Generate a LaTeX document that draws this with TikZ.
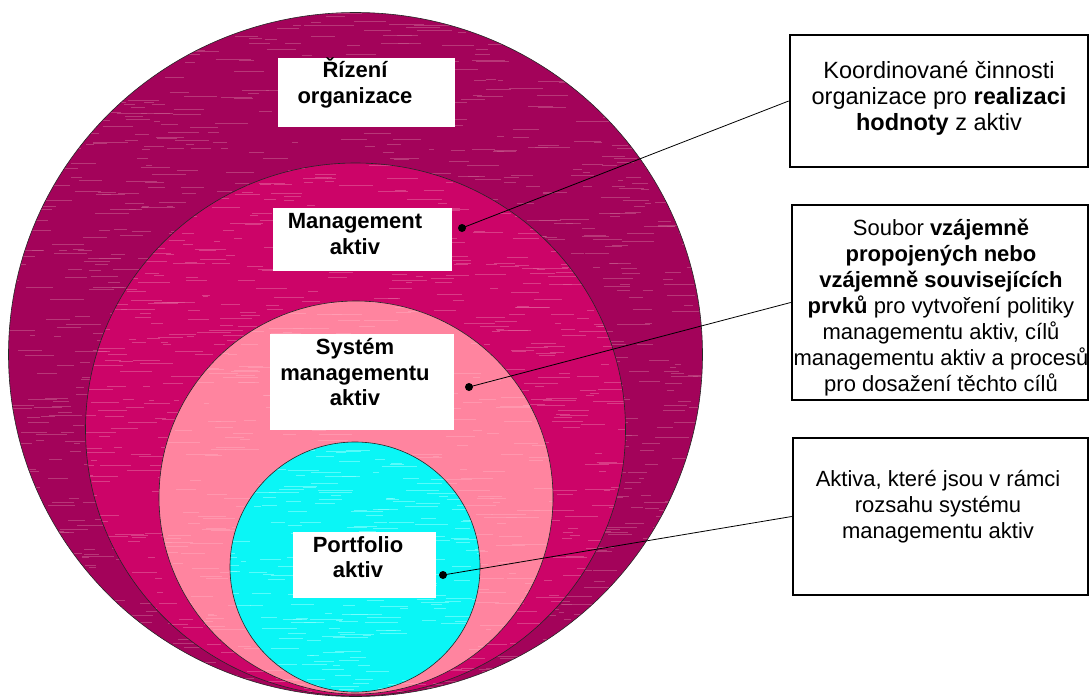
\documentclass[tikz,border=0pt]{standalone}
\usepackage{fontspec}
\setmainfont{Liberation Sans}
\usetikzlibrary{positioning}
\definecolor{RingOuter}{HTML}{A3035A}
\definecolor{RingOuterLight}{HTML}{C65A8C}
\definecolor{RingMgmt}{HTML}{CC0468}
\definecolor{RingMgmtLight}{HTML}{E2609A}
\definecolor{RingSystem}{HTML}{FF849F}
\definecolor{RingSystemLight}{HTML}{FFA4B8}
\definecolor{RingPortfolio}{HTML}{0AF6F6}
\definecolor{RingPortfolioLight}{HTML}{8CFFFF}

\tikzset{
  ring/.style={draw=black!85, line width=0.6pt},
  streak/.style={line width=1pt, opacity=0.6},
  lblbox/.style={fill=white, inner sep=0pt},
  lbltext/.style={font=\bfseries\fontsize{22}{25.5}\selectfont, align=center, inner sep=0pt},
  descbox/.style={draw=black, line width=2.6pt, fill=white, inner sep=0pt},
  desctext/.style={font=\fontsize{22}{26}\selectfont, align=center, inner sep=0pt},
  pin/.style={fill=black, circle, inner sep=0pt, minimum size=8pt},
  leader/.style={black, line width=0.8pt}
}

% streaky fill: #1 count, #2 colour, #3 left, #4 top, #5 width, #6 height
\newcommand{\ringstreaks}[6]{%
  \foreach \k in {1,...,#1} {
    \pgfmathsetmacro{\sx}{#3+rnd*#5}
    \pgfmathsetmacro{\sy}{#4+rnd*#6}
    \pgfmathsetmacro{\sl}{5+rnd*30}
    \draw[streak, #2] (\sx,\sy) -- ++(\sl,0);
  }}

\begin{document}
\begin{tikzpicture}[x=1pt, y=-1pt]
  \useasboundingbox (0,0) rectangle (1091,696);
  \pgfmathsetseed{17}
  % Rings
  \fill[RingOuter] (355.5,354.5) ellipse [x radius=347, y radius=342];
  \begin{scope}
    \clip (355.5,354.5) ellipse [x radius=347, y radius=342];
    \ringstreaks{1400}{RingOuterLight}{0}{10}{700}{690}
  \end{scope}
  \draw[ring] (355.5,354.5) ellipse [x radius=347, y radius=342];
  \fill[RingMgmt] (355.5,429.5) ellipse [x radius=270, y radius=266.5];
  \begin{scope}
    \clip (355.5,429.5) ellipse [x radius=270, y radius=266.5];
    \ringstreaks{900}{RingMgmtLight}{75}{160}{550}{540}
  \end{scope}
  \draw[ring] (355.5,429.5) ellipse [x radius=270, y radius=266.5];
  \fill[RingSystem] (356,497.5) ellipse [x radius=197, y radius=196.5];
  \begin{scope}
    \clip (356,497.5) ellipse [x radius=197, y radius=196.5];
    \ringstreaks{400}{RingSystemLight}{150}{300}{400}{395}
  \end{scope}
  \draw[ring] (356,497.5) ellipse [x radius=197, y radius=196.5];
  \fill[RingPortfolio] (355,567) circle [radius=125];
  \begin{scope}
    \clip (355,567) circle [radius=125];
    \ringstreaks{250}{RingPortfolioLight}{220}{440}{260}{255}
  \end{scope}
  \draw[ring] (355,567) circle [radius=125];
  % Ring labels
  \node[lblbox, minimum width=177pt, minimum height=69pt] (rizeni) at (366.5,92) {};
  \node[lbltext] (rizenitxt) at (355,83) {Řízení\\organizace};
  \node[lblbox, minimum width=179pt, minimum height=63pt] (mgmt) at (362,239.5) {};
  \node[lbltext] (mgmttxt) at (355,234) {Management\\aktiv};
  \node[lblbox, minimum width=184pt, minimum height=96pt] (system) at (362,382) {};
  \node[lbltext] (systemtxt) at (355,372.5) {Systém\\managementu\\aktiv};
  \node[lblbox, minimum width=143pt, minimum height=66pt] (portfolio) at (364.5,565) {};
  \node[lbltext] (portfoliotxt) at (358,557) {Portfolio\\aktiv};
  % Descriptions
  \node[descbox, minimum width=298pt, minimum height=132pt] (popis1) at (939,101) {};
  \node[desctext, font=\fontsize{23.5}{26}\selectfont] (popis1txt) at (939,98.5) {Koordinované činnosti\\organizace pro \textbf{realizaci}\\\textbf{hodnoty} z aktiv};
  \node[descbox, minimum width=296pt, minimum height=195pt] (popis2) at (940,302.5) {};
  \node[desctext] (popis2txt) at (941,308) {Soubor \textbf{vzájemně}\\\textbf{propojených nebo}\\\textbf{vzájemně souvisejících}\\\textbf{prvků} pro vytvoření politiky\\managementu aktiv, cílů\\managementu aktiv a procesů\\pro dosažení těchto cílů};
  \node[descbox, minimum width=295pt, minimum height=157pt] (popis3) at (940.5,516.5) {};
  \node[desctext] (popis3txt) at (938,507) {Aktiva, které jsou v rámci\\rozsahu systému\\managementu aktiv};
  % Leaders
  \node[pin] (pinMgmt) at (462,228) {};
  \node[pin] (pinSystem) at (469,387) {};
  \node[pin] (pinPortfolio) at (443,575) {};
  \draw[leader] (pinMgmt.center) -- (popis1.west);
  \draw[leader] (pinSystem.center) -- (popis2.west);
  \draw[leader] (pinPortfolio.center) -- (popis3.west);
\end{tikzpicture}
\end{document}
